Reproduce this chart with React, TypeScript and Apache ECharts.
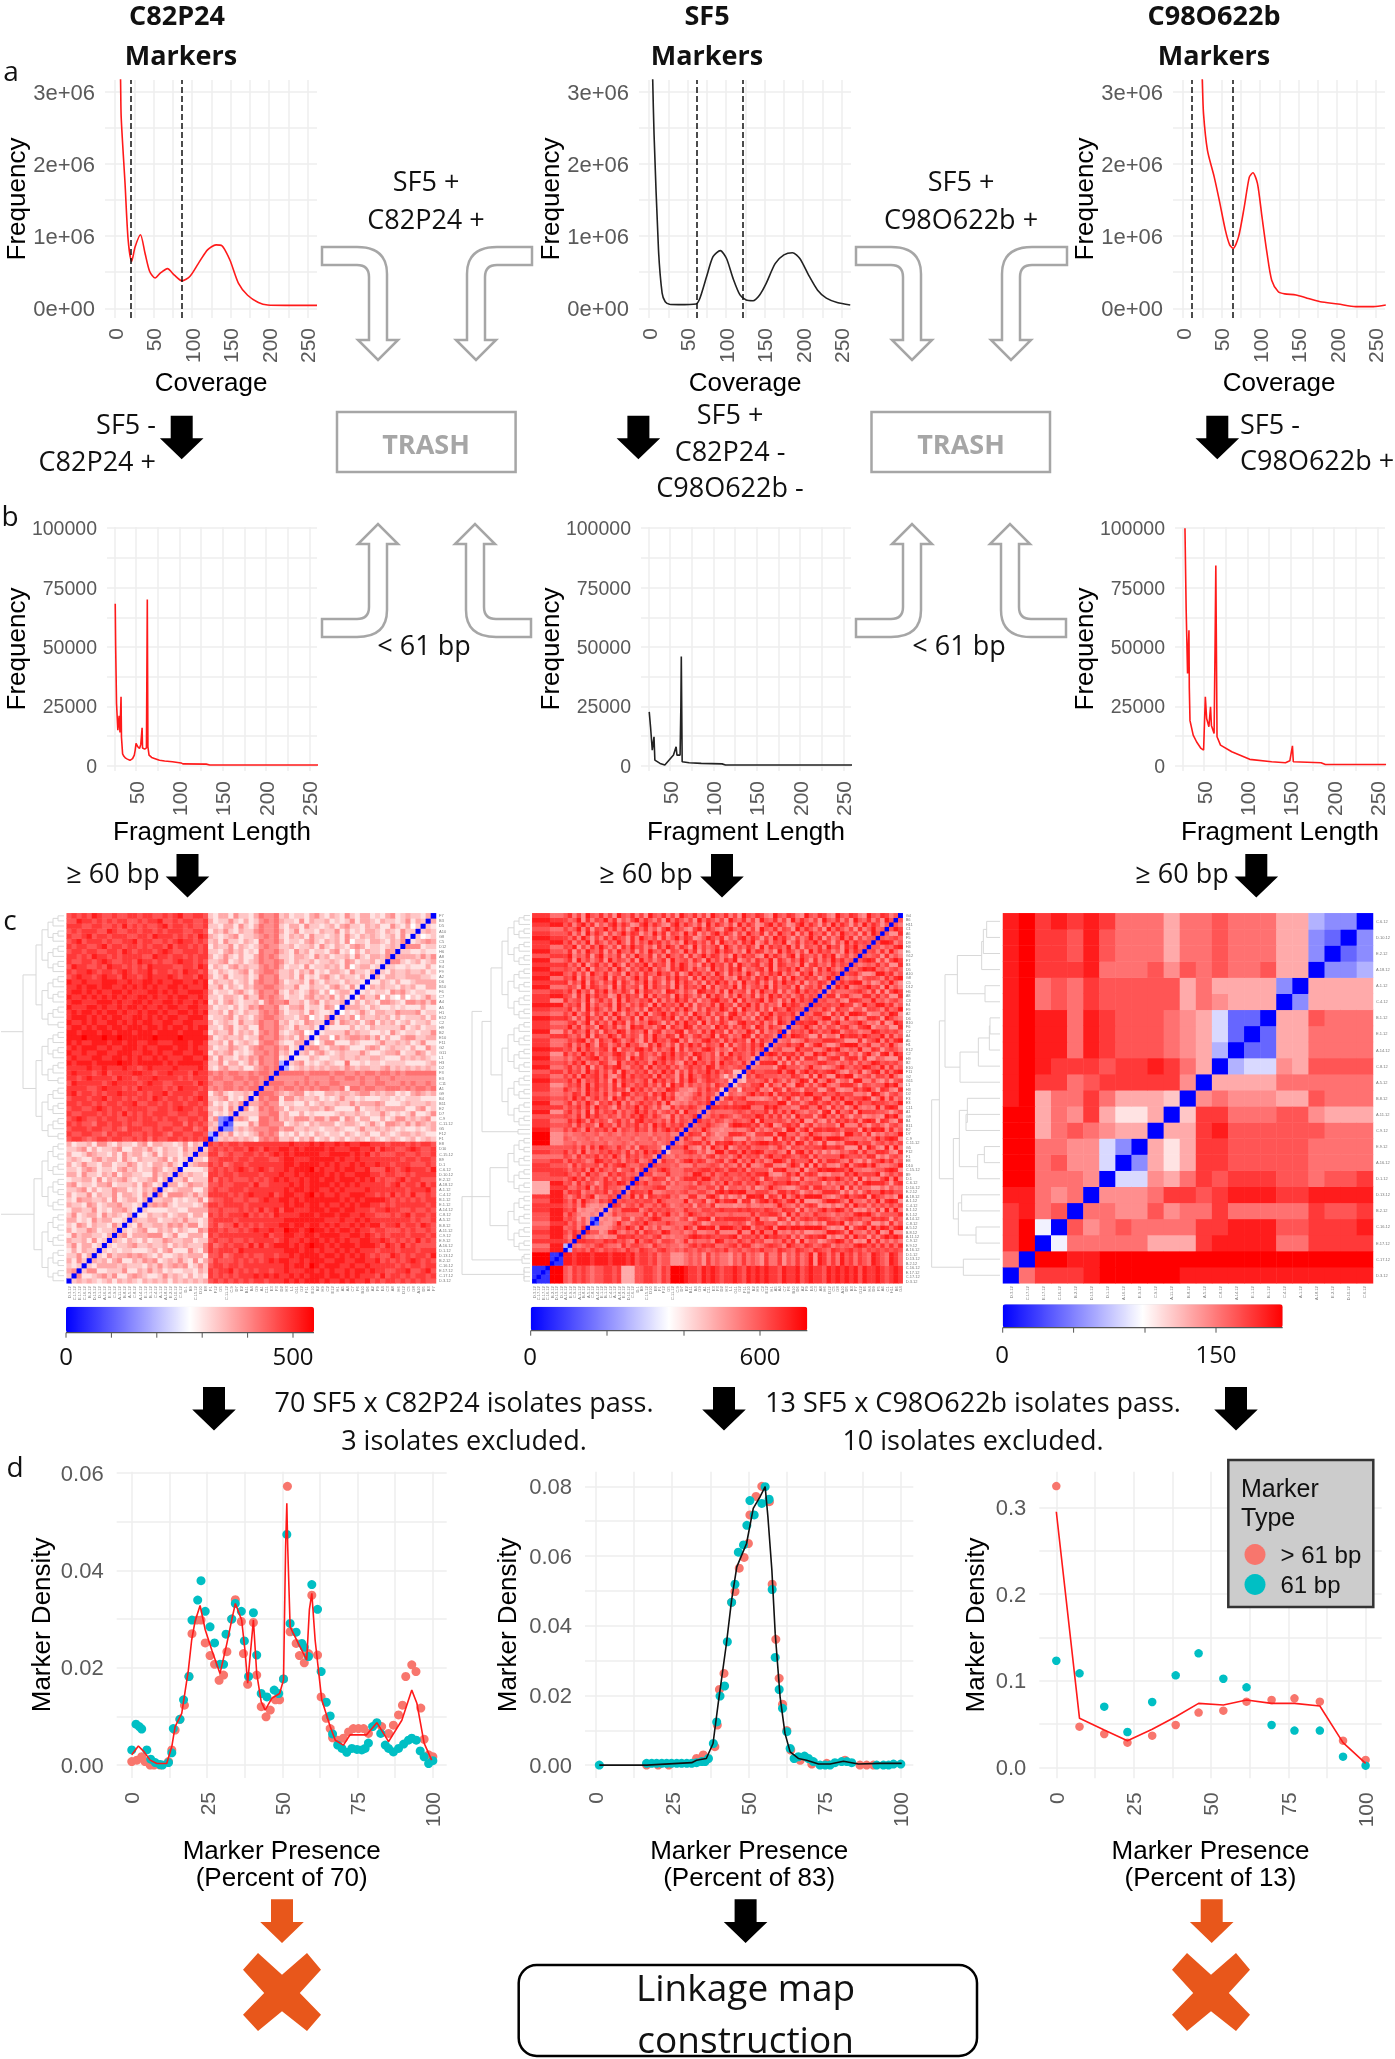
import React, { useEffect, useRef } from "react";
import * as echarts from "echarts";

const sansFont = '"Liberation Sans", Arial, sans-serif';
const officeFont = '"Open Sans", sans-serif';
const RED = "#ff1a1a";
const SALMON = "#F8766D";
const TEAL = "#00BFC4";
const ORANGE = "#E8571B";
const GREY = "#a6a6a6";

// ---------- Coverage histograms (coverage, frequency in millions)
const coverageC82: number[][] = [[6.5,3.4],[7.2,3.16],[8,2.65],[13,1.73],[17,.95],[21.6,.65],[26,.85],[33,1.02],[39,.76],[45,.51],[52,.42],[59,.49],[68,.55],[77,.46],[87,.38],[97,.44],[108,.62],[120,.81],[131,.88],[138.5,.87],[149,.67],[160,.35],[172,.18],[186,.08],[198,.045],[221,.04],[262,.04]];
const coverageSF5: number[][] = [[4,3.5],[4.8,3.16],[6.5,2.42],[12.3,.81],[17,.21],[21,.09],[26.7,.055],[38,.05],[61,.06],[66,.14],[74.7,.44],[83,.715],[92.5,.8],[100.5,.69],[109,.415],[118,.185],[126,.115],[135,.105],[143.5,.185],[152,.346],[163.6,.62],[175,.74],[186,.77],[195.6,.69],[207,.46],[218.7,.25],[230,.14],[244,.08],[261,.045]];
const coverageC98: number[][] = [[24,3.5],[25,3.16],[26.6,2.7],[31.7,2.19],[40.5,1.82],[47,1.5],[55,1.08],[60.5,.88],[65,.83],[72,.99],[79.5,1.41],[86,1.82],[90.7,1.88],[96.6,1.73],[102.4,1.27],[109,.76],[115,.39],[123.6,.23],[132,.2],[146.5,.185],[161,.14],[178,.09],[201,.06],[224,.023],[247,.023],[263,.046]];
const cutoffsC82 = [21, 86];
const cutoffsSF5 = [62, 122];
const cutoffsC98 = [11, 65];

// ---------- Fragment length histograms
const fragmentC82: number[][] = [[26,68200],[26.5,50000],[27.5,26200],[29,15000],[30.5,21000],[31.5,14000],[32.7,29000],[33.2,12000],[34.5,5000],[36,4000],[38,3200],[40,2800],[43,2300],[46,3000],[48,4500],[49,6500],[50,9400],[52,8000],[54,7300],[55.5,9000],[57,16000],[57.5,7500],[60,7000],[62,7500],[62.5,38000],[63,70000],[63.7,8000],[65,4500],[68,3500],[72,3000],[77,2300],[83,2000],[92,1700],[102,1200],[104,800],[131,700],[135,300],[260,300]];
const fragmentSF5: number[][] = [[26,22700],[27.5,16400],[29.5,6600],[31.5,12200],[32.5,2400],[38.5,1000],[44,300],[49,2400],[54,4500],[57,8000],[58,4500],[61.6,4500],[62.5,25000],[63,46000],[64,1700],[72,1300],[86,1000],[110,800],[114,300],[260,300]];
const fragmentC98: number[][] = [[28,100000],[29.4,65400],[31,38800],[32.6,57000],[33,33000],[33.8,19000],[37.5,12900],[41.5,10000],[46.5,7300],[49.5,6600],[50.5,17800],[51.5,29000],[53,19900],[55.6,16400],[57.5,24800],[58.5,17000],[61.6,13600],[62.7,49300],[63.6,84300],[65,12200],[69,8700],[82,5900],[102.7,2700],[128,1700],[144,1300],[149,2100],[152,8400],[153,1700],[185,1300],[190,560],[260,560]];

// ---------- Shade codes of the distance matrices: 0-9 white to red, a-g blue to white
const c82LowerBlock = ["","2","34","212","3142","22413","131322","2413312","32231412","142332213","3122431223","21431322142","331214233112","2412331423213","13322412133421","322143123342212","2143322314123313","31224132241332142","223413122433121324","3412213341222314312","12233141323421223413","331422132413322114232","2213431221342312243123","31242213312243121332421","232113423314213222341312","3112432213142331241322132","22341312234113324213221423","312231442132213413322124132"];
const c82CrossBlock = ["6776567767766767576677676767","7667766576777667677657766776","6777677667657776676776677567","7676657767767667776667757676","6787667677667767767677667767","7667776767686767677766776677","6776678767767777667767877676","7767767677677866776767767767","6777677867767677687677676787","7867767677877767677867777677","7777667877767687777676877767","6877777678777767877667777687","7767877776877677787777676777","7877767867777887767787776877","7777877877787767877778777787","8788878888988788888787888887","7877788778878787787877788778","8778778877888778878778877887","7878887787788878778887887877","8787788878878877887778887887","8889888988988888898888988888","8878887887888788878888788887","7887878878878887887878878788","8778787788787878877887788777","7888787878877887878788778887","7878878788787787887877887878","8777887877878878778788778877","7887778887877887877887877878","8778787878787788787787887787","7887878778878777887878778887","7787887887787878787788787778","8778777888778778878778877878","6787767877687767877787677687","7677876776787677867767687767","6877667687767676877776677687","7667767876677687767667877676","7767687767677776687767767677","6776776677687677767876677767","7677667867767767677686776767","6786777676677867766767877676","7667867767776677687776767687","6767776687667767767677766776","7776677667686767667867767667","6687767676776676778667677667","6767687667667767766767866776"];
const c82UpperBlock = ["","e","23","32d","24dc","31213","223142","3121324","22341213","134212232","4545545455","54455445454","455445545545","5454554454554","21342231134545","22413312425445e","3142213243544512","13234121244545231","312243213454453412","2231412321455421133","41232231225445323142","132241323145452123401","2213412311544532142231","31232142235445231214322","122341321345543221340214","2231421322454531223142112","31221312435445213341221430","131342122314544522313413223","2213321422545431221342324131","31221342135445213212431302331","224132132445543224113221342141","1322312314544531223142132213221","31241223125445223141213421322131","213212341345542231324121332142213","1321342322454531221412232314023312","22341231235445421322312232143122312","312421311354542213321423122314213324","2213423121544532142312213412031322143","13224132124544223122314213213431221232","231422132154453122134213231402213321324","3212341223454521323142212314213232123141","13242132245445312412213224131213321321422","221331421354452133142212313422132311421302","3122421312454532214132231212413321322124132","21331422135445231221342132142133121341232213"];

const sf5RowA = "657676566776733366776576999877687876778768787877687786787768787878687787678";
const sf5RowB = "88788878887888786776756644456564756554657565475574657568487575867576587658757";
const sf5Triangle = ["","e","75","648","7586","56748","857463","676363c","58643343","768343343","6574843343","75849654768","646857935576","5878465768476","85576947586654","6748576358769857","5796847658574768","86574967548687565","757684958657366847","6485766748578965576","58676459867574768457","764857685759648675763","8574946576867584759686","66758485976586473876651","556455655645565465556456","6545565465556556455646565","54556556456546556554655644","758649576859476586748579685","6748576396748576857496857685","58697485763685748967657484765","765849686576475869758643847568","6857493857684756968574675839664","57685849675385769586473385768754","684759637685947468675849345465768","7596846857396847558674968434576584","65874967584639857674869573434685763","865749685748673968574659864434758671","5768495867483965768574839684756574865","68594768573948675684968573859746876561","758496785843695867684957638496578674152","5867496857483965768475968374857696857611","68574937586895476849576857468675984765676","758694658743957686749685743869675849676584","6468578957468739686457968574839657468758653","85759684765897463865748695764986573849676584","674958657849376589684756938476589746538675857","6847596387468596743859647385968476593846758693","57689473865974685384967589473658967485867394865","865749386597485763849658739647856938746598385764","7486594738659847659378465893764859673846597384658","69584763975846397856479386598475639684758639748653","578469385749683746598637485967394758634896758463975","8637496583749658394765869374859647385967463859748657","75946837584963758493679586473965847638957463869577684","684739586473958647396857485963748659748396584738659766","5768394756839647586394867594837658496738695847563968756","85674936857394865769384759684736589674938567948637495867","763849586734958673948567395864739586374965837496857468576","6849573869475863948756398647539867483956738496583746958675","57639487563948567394865739486759384675938467593856749367584","847593864759386475948637395864738596847395684738596748365874","769384756938574695837648596738495768453967486957384965867359","6584739658467395748659674835968574963857496375869475386947568","76584937658496375869475386974856395748693657849376859467385964","857493685749638576948673859746385967483965784693875649378564857","6839574683957648395746839567486395748693574865938647596384759685","79465837946583749658374965738469587463958674395864793865748693574","583749658374965837496583764958374695874639587463958647395867463958","7693748596473859674638597486394756839647586394867594837658496738695","68475938647596384759685746396857483965748693584769358476958637495867","758496374859763849657384695873469758364795863749685374695837469583746","6847395863746958736495837649583647958637496583749658374965837496573849","75694837695847369584637958643795864379658473965847639586473958647384695","684795836479586347958643795864739586473958634795863479586374958637495863","7569384769583647958647395864739586473965847396584739586473965847396584739","68473965847396584739658473965847396584739658743965874396587439658743965874"];
const c98Triangle = ["a","5a","79a","79ga","7856a","88545a","995554a","995644fa","995544fda","993565433a","9935473113a","89355753332a","897756777774a","8987776778753a","8988587666543ea","8988587666543fca","8988587666543fcca","89565766666354333a","89565766666353333da","8977785556465655633a","8977686555355655533da","8977686555355655533dca","8978787555355655533edda"];

const isolateNames = ["D.3.12","C.17.12","E.17.12","C.16.12","B.2.12","D.13.12","D.1.12","A.16.12","E.9.12","C.9.12","A.11.12","B.8.12","A.5.12","C.8.12","A.14.12","E.1.12","B.1.12","C.4.12","A.1.12","A.18.12","E.2.12","D.10.12","C.6.12","D.1","B9","C.15.12","D10","E8","F1","F12","G5","C.11.12","C.9","D7","E2","B11","B4","G9","A1","C11","E3","F3","D2","H3","L1","G11","G2","F11","E10","B2","H9","C2","E12","H1","A5","A4","C7","F6","B10","D6","A2","F9","E4","C3","A8","H6","D12","C5","G8","A10","D5","B3","F7","G12","E6","H4","D9","F5","A6","C1","H11","B6","G4"];
const tickTexts = { c82: ["0", "500"], sf5: ["0", "600"], c98: ["0", "150"] };

// ---------- Marker density panels (percent, density)
const densityC82Long: number[][] = [[0,.0007],[1.7,.001],[3.3,.0017],[4.4,.0007],[6.1,0],[7.4,0],[9.4,0],[12.2,.0007],[13.3,.0031],[14.4,.0072],[16,.0094],[17.5,.0123],[19,.0182],[20,.027],[21.6,.0298],[23,.0298],[24.4,.0251],[26,.0225],[27.5,.0207],[29,.0174],[30.5,.0185],[31.6,.0233],[33.2,.03],[34.4,.034],[36.4,.0295],[37.1,.0229],[38.5,.0166],[40.4,.0293],[41.5,.0185],[43,.012],[44.6,.0099],[46,.0113],[47.7,.0134],[49.1,.0134],[50.4,.0177],[51.7,.0573],[52.6,.0274],[54.6,.025],[55.7,.0225],[57.3,.021],[58.7,.0229],[59.8,.0349],[61.7,.0226],[62.9,.014],[64.6,.0096],[65.9,.0075],[66.7,.0056],[68.4,.0051],[70.3,.0055],[72,.0068],[73.6,.0075],[75.3,.0075],[77,.0075],[78.6,.0065],[81.4,.0086],[83,.0079],[85.3,.0065],[86.9,.0082],[88.6,.0103],[89.9,.0123],[91,.0182],[93,.0206],[94.4,.0192],[96,.0117],[97.1,.0053],[98.6,.0021],[100,.0017]];
const densityC82Short: number[][] = [[0,.0031],[1.4,.0084],[2.5,.0079],[3.3,.0074],[5,.0031],[6.3,.0012],[7.8,.0005],[9.4,.0001],[10.2,0],[12.2,.0005],[13.3,.0025],[13.8,.0075],[16,.0094],[17.2,.0134],[19,.0182],[20,.0298],[21.9,.0339],[23,.0379],[24.4,.0316],[26,.0284],[27.5,.0251],[29.3,.0207],[30.5,.0207],[31.3,.0269],[33.2,.03],[34.4,.0332],[36.4,.0316],[37.4,.0255],[38.8,.0182],[40.4,.0313],[41.5,.0226],[43,.0147],[44.9,.014],[47.3,.0154],[48.8,.0147],[50.4,.0177],[51.5,.0474],[52.6,.0291],[54.6,.0273],[56.5,.025],[57.3,.0242],[58.7,.0223],[59.8,.0371],[61.7,.032],[62.9,.0192],[64.6,.0129],[65.9,.0101],[66.7,.0064],[68.4,.0041],[69.8,.0034],[71.4,.0026],[73.1,.0034],[74.8,.0032],[76.4,.0031],[77.5,.0034],[78.6,.0045],[80,.0079],[81.4,.0087],[82.7,.0065],[84.2,.0041],[85.3,.0034],[86.9,.0027],[88.6,.0034],[90.3,.0043],[91.9,.0051],[93,.0055],[94.5,.0051],[95.8,.0029],[97.1,.0017],[98.6,.0003],[100,.0009]];
const densityC82Line: number[][] = [[0,.0021],[2.2,.0039],[4.1,.0027],[6.1,.001],[8.3,.0003],[11.6,.0003],[13.3,.0038],[14.4,.0079],[16.6,.0106],[18.8,.0195],[19.9,.0257],[21,.0295],[22.7,.0328],[24.4,.0278],[26.6,.0236],[29.3,.0188],[31.6,.025],[33.2,.0298],[34.4,.0332],[36.5,.0298],[37.6,.0236],[38.5,.0168],[40.4,.0298],[41.5,.0188],[43,.013],[44.3,.0113],[46.5,.0137],[49.1,.0147],[50.4,.0175],[51.1,.0448],[51.5,.0538],[51.8,.0448],[52.6,.0284],[55.9,.0243],[58.1,.0216],[59,.032],[59.8,.0353],[60.9,.0257],[63.1,.0134],[65.9,.0079],[67.6,.0051],[70.3,.0041],[72.5,.0062],[78,.0062],[81.4,.0087],[85.3,.0048],[89.7,.0092],[93,.0154],[94.7,.0127],[97.1,.0045],[99.6,.001]];
const densitySF5Long: number[][] = [[16.6,0],[20.4,0],[23.9,0],[33,.0019],[35.2,.0029],[39,.0053],[39.8,.0115],[40.5,.0217],[42,.0263],[44.5,.0467],[45.6,.0498],[47,.0565],[48.6,.0596],[50,.0636],[50.5,.0718],[52.5,.0771],[54.4,.08],[56.9,.0756],[57.8,.0519],[59,.0361],[60.1,.0249],[61.2,.0175],[62.6,.0099],[63.9,.0043],[67,.0014],[70.8,.0003],[75.7,.0005],[81.7,.0014],[86.6,0],[88.8,0],[91,0]];
const densitySF5Short: number[][] = [[1.1,0],[16.6,.0005],[18.3,.0005],[19.9,.0005],[21.6,.0005],[23.2,.0005],[24.8,.0005],[26.5,.0005],[28.1,.0005],[29.8,.0005],[31.4,.0005],[33,.0007],[34.7,.001],[35.8,.001],[36.9,.0019],[38.5,.0062],[39.6,.0124],[40.7,.0198],[42.2,.0227],[43.1,.0354],[44.5,.0467],[45.6,.0519],[46.7,.0611],[48.4,.0632],[49.5,.0688],[50.5,.0759],[51.9,.0718],[54.4,.0751],[55.5,.0799],[56.8,.0763],[57.8,.0504],[58.8,.0309],[60.1,.0217],[61.2,.0163],[62.6,.0096],[63.7,.0048],[65,.0019],[66.4,.0024],[68.4,.0026],[69.7,.0019],[71.3,.001],[73.5,0],[75.2,0],[76.8,0],[78.4,.0007],[80.6,.001],[82.3,.001],[83.9,.0007],[92.1,0],[94.3,0],[96,0],[97.6,.0003],[100,.0003]];
const densitySF5Line: number[][] = [[1.1,0],[16.7,0],[31.4,.0007],[33,.0014],[36.2,.0019],[38.4,.0062],[40.1,.0177],[42.8,.0349],[44.5,.0474],[46.2,.0569],[49.4,.0636],[51.6,.0737],[53.8,.077],[55.5,.0799],[56.4,.0713],[57.7,.056],[58.8,.0378],[60.4,.0196],[62,.0091],[63.7,.0038],[66.4,.0019],[69.1,.0014],[73,.0003],[76.8,.0003],[81.2,.0011],[86.1,.0003],[93.2,.0005],[100.3,.0005]];
const densityC98Long: number[][] = [[0,.325],[7.5,.047],[15.5,.0385],[23,.0285],[31,.0366],[38.6,.0489],[46,.0632],[54,.0655],[61.5,.0759],[69.6,.0778],[77,.0797],[85.2,.0759],[92.7,.0308],[100,.0085]];
const densityC98Short: number[][] = [[0,.1232],[7.5,.1086],[15.5,.0701],[23,.0408],[31,.0755],[38.6,.1063],[46,.1317],[54,.1024],[61.5,.0924],[69.6,.0489],[77,.0424],[85.2,.0424],[92.7,.0123],[100,.0019]];
const densityC98Line: number[][] = [[0,.2953],[7.5,.0566],[15.5,.0431],[23,.0308],[31,.0439],[38.6,.0585],[46,.0739],[54,.072],[61.5,.0778],[69.6,.0739],[77,.0739],[85.2,.0709],[92.7,.0285],[100,.0046]];

const c98Tree: any = [5,[28,[45,[82,[155,[160,[170,0,1],2],3],[165,4,5]],[90,[145,[178,[180,6,7],8],9],10]],[70,[88,[112,11,[108,12,13]],[143,[163,14,15],16]],[85,[95,17,18],[138,19,20]]]],[100,21,22]];
const spanReach = [[2,6],[4,11],[8,16],[16,22],[32,28],[64,33]];

const shade = (ch: string | undefined, max: number, fallback = "5", soften = 1) => {
  const c = ch === undefined || ch === " " ? fallback : ch;
  const mid = max / 2;
  const blues: any = { a: 0, b: .2, c: .4, d: .55, e: .7, f: .85, g: .95 };
  if (c in blues) return mid * blues[c];
  const d = Number(c);
  return mid * (1 + (soften === 1 ? d : 6 + (d - 6) * soften) / 9);
};
const at = (rows: string[], i: number, j: number) => (rows[i] || "")[j];

function mirrored(n: number, cell: (i: number, j: number) => number) {
  const out: number[][] = [];
  for (let i = 0; i < n; i++) for (let j = 0; j <= i; j++) {
    const v = i === j ? 0 : cell(i, j);
    out.push([j, i, v]);
    if (i !== j) out.push([i, j, v]);
  }
  return out;
}
const c82Matrix = () => mirrored(73, (i, j) => {
  if (i < 28) return shade(at(c82LowerBlock, i, j), 546, "3");
  if (j < 28) return shade(at(c82CrossBlock, i - 28, j), 546, "7");
  return shade(at(c82UpperBlock, i - 28, j - 28), 546, "3");
});
const sf5Matrix = () => mirrored(83, (i, j) => {
  if (i < 4) return shade("b", 724);
  if (i < 7 && j >= 4) return shade("b", 724);
  if (i < 7) return shade("9", 724);
  if (j < 4) return shade(sf5RowA[i - 7], 724, "7");
  if (j < 7) return shade(sf5RowB[i - 7], 724, "6");
  return shade(at(sf5Triangle, i - 7, j - 7), 724, "6", 0.7);
});
const c98Matrix = () => mirrored(23, (i, j) => shade(at(c98Triangle, i, j), 197));

const TREE_STYLE = { stroke: "#d8d8d8", lineWidth: 1 };
const bracket = (pts: number[][]) => ({ type: "polyline", silent: true, shape: { points: pts }, style: TREE_STYLE, z: 1 });

function balancedTree(lo: number, hi: number, leafX: number, yOf: (i: number) => number, out: any[], rootX?: number): { x: number; y: number } {
  if (lo === hi) return { x: leafX, y: yOf(lo) };
  const mid = (lo + hi) >> 1;
  const a = balancedTree(lo, mid, leafX, yOf, out);
  const b = balancedTree(mid + 1, hi, leafX, yOf, out);
  const span = hi - lo + 1;
  const reach = (spanReach.find((s) => span <= s[0]) || [0, 36])[1];
  const x = rootX ?? leafX - reach;
  out.push(bracket([[a.x, a.y], [x, a.y], [x, b.y], [b.x, b.y]]));
  return { x, y: (a.y + b.y) / 2 };
}
function typedTree(node: any, toX: (z: number) => number, leafX: number, yOf: (i: number) => number, out: any[]): { x: number; y: number } {
  if (typeof node === "number") return { x: leafX, y: yOf(node) };
  const a = typedTree(node[1], toX, leafX, yOf, out);
  const b = typedTree(node[2], toX, leafX, yOf, out);
  const x = toX(node[0]);
  out.push(bracket([[a.x, a.y], [x, a.y], [x, b.y], [b.x, b.y]]));
  return { x, y: (a.y + b.y) / 2 };
}

const BENT = "M0 0 H35 Q65 0 65 27 V93 H76 L56 113 L36 93 H47 V30 Q47 18 35 18 H0 Z";
let registered = false;
function registerShapes() {
  if (registered) return;
  registered = true;
  echarts.graphic.registerShape("bentArrow", (echarts.graphic as any).extendPath(BENT, {}));
}

const txt = (text: string, x: number, y: number, size = 27, align = "center", extra: any = {}) => ({
  type: "text", x, y: extra.family ? y : y - 2, z: 6, silent: true,
  style: { text, fill: extra.fill || "#111", font: `${extra.weight || "normal"} ${size}px ${extra.family || officeFont}`, align, verticalAlign: "middle", textAlign: align, textVerticalAlign: "middle" },
});
const bigArrow = (cx: number, top: number, fill = "#000", k = 1) => ({
  type: "polygon", z: 5, silent: true,
  shape: { points: [[cx - 11, top], [cx + 11, top], [cx + 11, top + 22.6 * k], [cx + 21.8, top + 22.6 * k], [cx, top + 43.6 * k], [cx - 21.8, top + 22.6 * k], [cx - 11, top + 22.6 * k]] },
  style: { fill },
});
const cross = (cx: number, cy: number) => ({
  type: "polygon", z: 5, silent: true,
  shape: { points: [[-39,-22.3],[-24,-39],[0,-17.3],[25,-39],[39,-22.3],[17.8,1],[39,22.7],[25,39],[0,19.3],[-24,39],[-39,22.7],[-17.8,1]].map((p) => [cx + p[0], cy + p[1]]) },
  style: { fill: ORANGE },
});
const bent = (x: number, y: number, sx: number, sy: number) => ({
  type: "bentArrow", x, y, scaleX: sx, scaleY: sy, z: 5, silent: true,
  style: { fill: "#fff", stroke: GREY, lineWidth: 2.5, strokeNoScale: true },
});

export default function App() {
  const ref = useRef<HTMLDivElement>(null);
  useEffect(() => {
    if (!ref.current) return;
    registerShapes();
    const chart = echarts.init(ref.current, undefined, { renderer: "svg" });

    const gridLine = { show: true, lineStyle: { color: "#eeeeee", width: 1.5 } };
    const grids: any[] = [], xAxes: any[] = [], yAxes: any[] = [], series: any[] = [];
    const axisNames = { fontFamily: sansFont, fontSize: 26, color: "#000" };

    const addHeat = (left: number, right: number, names: string[], data: number[][]) => {
      const g = grids.length;
      grids.push({ left, top: 913.3, width: right - left, height: 370 });
      const tiny = { fontSize: 4, color: "#777", interval: 0, margin: 3, fontFamily: sansFont };
      xAxes.push({ type: "category", gridIndex: g, data: names, axisLine: { show: false }, axisTick: { show: false }, splitLine: { show: false }, axisLabel: { ...tiny, rotate: 90 } });
      yAxes.push({ type: "category", gridIndex: g, data: names, position: "right", axisLine: { show: false }, axisTick: { show: false }, splitLine: { show: false }, axisLabel: tiny });
      series.push({ type: "heatmap", xAxisIndex: g, yAxisIndex: g, data, progressive: 0, emphasis: { disabled: true }, itemStyle: { borderWidth: 0 } });
    };
    addHeat(66.7, 436, isolateNames.slice(0, 73), c82Matrix());
    addHeat(532.3, 902.7, isolateNames, sf5Matrix());
    addHeat(1003, 1373, isolateNames.slice(0, 23), c98Matrix());

    const addPanel = (box: number[], xr: number[], yr: number[], xt: number[], xl: number[], yt: number[], yl: number[], opts: any) => {
      const g = grids.length;
      grids.push({ left: box[0], top: box[1], width: box[2] - box[0], height: box[3] - box[1] });
      xAxes.push({
        type: "value", gridIndex: g, min: xr[0], max: xr[1],
        axisLine: { show: false }, axisTick: { show: false, customValues: xt },
        axisLabel: { customValues: xl, rotate: 90, fontSize: 21, color: "#5a5a5a", margin: opts.xMargin, fontFamily: sansFont },
        splitLine: gridLine, name: opts.xName, nameLocation: "middle", nameGap: opts.xGap, nameMoveOverlap: false,
        nameTextStyle: { ...axisNames, lineHeight: 27 },
      });
      yAxes.push({
        type: "value", gridIndex: g, min: yr[0], max: yr[1],
        axisLine: { show: false }, axisTick: { show: false, customValues: yt },
        axisLabel: { customValues: yl, fontSize: opts.yFont || 22, color: "#5a5a5a", margin: opts.yMargin, fontFamily: sansFont, formatter: opts.yFmt },
        splitLine: gridLine, name: opts.yName, nameLocation: "middle", nameGap: opts.yGap, nameMoveOverlap: false,
        nameTextStyle: axisNames,
      });
      return g;
    };
    const lineSeries = (g: number, data: number[][], color: string, extra: any = {}) => ({
      type: "line", name: "Mean", xAxisIndex: g, yAxisIndex: g, data, showSymbol: false, symbol: "none", z: 3, silent: true,
      lineStyle: { color, width: 1.6 }, ...extra,
    });
    const cuts = (vals: number[]) => ({
      silent: true, symbol: "none", animation: false, label: { show: false },
      lineStyle: { type: "dashed", color: "#111", width: 1.5 }, data: vals.map((v) => ({ xAxis: v })),
    });

    const covFmt = (v: number) => (v === 0 ? "0e+00" : `${v}e+06`);
    const covTicks = [0, 25, 50, 75, 100, 125, 150, 175, 200, 225, 250];
    const covLabels = [0, 50, 100, 150, 200, 250];
    [[0, coverageC82, cutoffsC82, RED], [534, coverageSF5, cutoffsSF5, "#222"], [1068, coverageC98, cutoffsC98, RED]].forEach((p: any) => {
      const g = addPanel([105 + p[0], 80, 317 + p[0], 318], [-13, 262], [-.135, 3.167], covTicks, covLabels, [0, .5, 1, 1.5, 2, 2.5, 3], [0, 1, 2, 3],
        { xName: "Coverage", xGap: 50, yName: "Frequency", yGap: 76, xMargin: 10, yMargin: 10, yFmt: covFmt });
      series.push(lineSeries(g, p[1], p[3], { smooth: 0.25, markLine: cuts(p[2]) }));
    });
    const fragTicks = [25, 50, 75, 100, 125, 150, 175, 200, 225, 250];
    const fragLabels = [50, 100, 150, 200, 250];
    [[0, fragmentC82, RED], [534, fragmentSF5, "#222"], [1068, fragmentC98, RED]].forEach((p: any) => {
      const g = addPanel([107 + p[0], 527, 317 + p[0], 771], [16.5, 258.8], [-2200, 100500], fragTicks, fragLabels, [0, 12500, 25000, 37500, 50000, 62500, 75000, 87500, 100000], [0, 25000, 50000, 75000, 100000],
        { xName: "Fragment Length", xGap: 46, yName: "Frequency", yGap: 78, xMargin: 10, yMargin: 10, yFont: 19.5, yFmt: (v: number) => String(v) });
      series.push(lineSeries(g, p[1], p[2]));
    });

    const pctTicks = [0, 12.5, 25, 37.5, 50, 62.5, 75, 87.5, 100];
    const pctLabels = [0, 25, 50, 75, 100];
    const dots = (g: number, name: string, data: number[][], color: string, size = 9) => ({
      type: "scatter", name, xAxisIndex: g, yAxisIndex: g, data, symbolSize: size, itemStyle: { color, opacity: 1 }, z: 2, silent: true,
    });
    const d = [
      { box: [116.7, 1471.7, 446.7, 1778], x: [-5, 104.6], y: [-.00267, .0603], t: [0, .01, .02, .03, .04, .05, .06], l: [0, .02, .04, .06], f: 2, name: "Marker Presence\n(Percent of 70)", yGap: 63, a: densityC82Long, b: densityC82Short, line: densityC82Line, c: RED, s: 9 },
      { box: [585, 1471.7, 913.3, 1778], x: [-3.6, 104.1], y: [-.0037, .0842], t: [0, .01, .02, .03, .04, .05, .06, .07, .08], l: [0, .02, .04, .06, .08], f: 2, name: "Marker Presence\n(Percent of 83)", yGap: 65, a: densitySF5Long, b: densitySF5Short, line: densitySF5Line, c: "#111", s: 9 },
      { box: [1039.3, 1471.7, 1381.7, 1778.3], x: [-5.5, 105.2], y: [-.0127, .3416], t: [0, .05, .1, .15, .2, .25, .3], l: [0, .1, .2, .3], f: 1, name: "Marker Presence\n(Percent of 13)", yGap: 51, a: densityC98Long, b: densityC98Short, line: densityC98Line, c: RED, s: 8.5 },
    ];
    d.forEach((p) => {
      const g = addPanel(p.box, p.x, p.y, pctTicks, pctLabels, p.t, p.l, {
        xName: p.name, xGap: 58, yName: "Marker Density", yGap: p.yGap, xMargin: 14, yMargin: 13, yFmt: (v: number) => v.toFixed(p.f),
      });
      series.push(dots(g, "> 61 bp", p.a, SALMON, p.s));
      series.push(dots(g, "61 bp", p.b, TEAL, p.s));
      series.push(lineSeries(g, p.line, p.c));
    });

    // dendrograms
    const trees: any[] = [];
    const y1 = (i: number) => 913.3 + (i + .5) * 370 / 73;
    const a1 = balancedTree(0, 44, 64, y1, trees, 23);
    const b1 = balancedTree(45, 72, 64, y1, trees, 34);
    trees.push(bracket([[a1.x, a1.y], [1, a1.y]]), bracket([[b1.x, b1.y], [1, b1.y]]));
    const y2 = (i: number) => 913.3 + (i + .5) * 370 / 83;
    const s1 = balancedTree(0, 47, 530, y2, trees, 491);
    const s2 = balancedTree(48, 49, 530, y2, trees, 518);
    const s3 = balancedTree(50, 75, 530, y2, trees, 490);
    const s4 = balancedTree(76, 78, 530, y2, trees, 522);
    const s5 = balancedTree(79, 82, 530, y2, trees, 524);
    trees.push(bracket([[s1.x, s1.y], [482, s1.y], [482, s2.y], [s2.x, s2.y]]));
    trees.push(bracket([[s3.x, s3.y], [480, s3.y]]), bracket([[s4.x, s4.y], [472, s4.y], [472, s1.y - 10], [482, s1.y - 10]]), bracket([[s5.x, s5.y], [462, s5.y], [462, s3.y], [480, s3.y]]));
    typedTree(c98Tree, (z) => 930 + z / 3, 1000, (i) => 913.3 + (i + .5) * 370 / 23, trees);

    const colorbarTicks = (left: number, top: number, h: number, right: number, values: number[]) => [
      { type: "line", silent: true, z: 5, shape: { x1: left, y1: top + h, x2: right, y2: top + h }, style: { stroke: "#555", lineWidth: 1.2 } },
      ...values.map((x) => ({ type: "line", silent: true, z: 5, shape: { x1: x, y1: top + h, x2: x, y2: top + h + 5 }, style: { stroke: "#555", lineWidth: 1 } })),
    ];

    const bold = { weight: "bold" };
    const elements: any[] = [
      ...trees,
      txt("C82P24", 177, 16, 27, "center", bold), txt("Markers", 181, 56, 27, "center", bold),
      txt("SF5", 707, 16, 27, "center", bold), txt("Markers", 707, 56, 27, "center", bold),
      txt("C98O622b", 1214, 16, 27, "center", bold), txt("Markers", 1214, 56, 27, "center", bold),
      txt("a", 11, 72, 28), txt("b", 10, 517, 28), txt("c", 10, 921, 28), txt("d", 15, 1468, 28),
      txt("SF5 +", 426, 182), txt("C82P24 +", 426, 220), txt("SF5 +", 961, 182), txt("C98O622b +", 961, 220),
      txt("SF5 -", 156, 425, 27, "right"), txt("C82P24 +", 156, 462, 27, "right"),
      txt("SF5 +", 730, 415), txt("C82P24 -", 730, 452), txt("C98O622b -", 730, 488),
      txt("SF5 -", 1240, 425, 27, "left"), txt("C98O622b +", 1240, 461, 27, "left"),
      txt("< 61 bp", 424, 646), txt("< 61 bp", 959, 646),
      txt("≥ 60 bp", 113, 874), txt("≥ 60 bp", 646, 874), txt("≥ 60 bp", 1182, 874),
      txt("70 SF5 x C82P24 isolates pass.", 464, 1403), txt("3 isolates excluded.", 464, 1441),
      txt("13 SF5 x C98O622b isolates pass.", 973, 1403), txt("10 isolates excluded.", 973, 1441),
      txt(tickTexts.c82[0], 66, 1357, 24), txt(tickTexts.c82[1], 293, 1357, 24),
      txt(tickTexts.sf5[0], 530, 1357, 24), txt(tickTexts.sf5[1], 760, 1357, 24),
      txt(tickTexts.c98[0], 1002, 1355, 24), txt(tickTexts.c98[1], 1216, 1355, 24),
      ...colorbarTicks(66, 1306.7, 26, 314, [66, 111.4, 156.8, 202.2, 247.6, 293]),
      ...colorbarTicks(530.7, 1306.7, 24, 807.3, [530.7, 607, 684, 760]),
      ...colorbarTicks(1002.7, 1304.3, 23.4, 1282.7, [1002.7, 1073.6, 1145, 1216]),
      bent(322, 247, 1, 1), bent(532, 247, -1, 1), bent(856, 247, 1, 1), bent(1067, 247, -1, 1),
      bent(322, 637, 1, -1), bent(531, 637, -1, -1), bent(856, 637, 1, -1), bent(1066, 637, -1, -1),
      { type: "rect", z: 5, silent: true, shape: { x: 337, y: 412, width: 178.6, height: 60 }, style: { fill: "#fff", stroke: GREY, lineWidth: 2.5 } },
      { type: "rect", z: 5, silent: true, shape: { x: 871.5, y: 412, width: 178.5, height: 60 }, style: { fill: "#fff", stroke: GREY, lineWidth: 2.5 } },
      txt("TRASH", 426, 445, 27, "center", { weight: "bold", fill: GREY }), txt("TRASH", 961, 445, 27, "center", { weight: "bold", fill: GREY }),
      bigArrow(181.7, 415.7), bigArrow(638.4, 415.7), bigArrow(1217.3, 415.7),
      bigArrow(187.5, 854), bigArrow(722, 854), bigArrow(1256.3, 854),
      bigArrow(214, 1387), bigArrow(724, 1387), bigArrow(1236, 1387),
      bigArrow(282, 1899.3, ORANGE), bigArrow(745.6, 1899.3), bigArrow(1211.7, 1899.3, ORANGE),
      cross(282, 1992), cross(1211, 1992),
      { type: "rect", z: 5, silent: true, shape: { x: 518.7, y: 1965, width: 458.3, height: 91, r: 18 }, style: { fill: "#fff", stroke: "#000", lineWidth: 2.5 } },
      txt("Linkage map", 745.6, 1988, 37), txt("construction", 745.6, 2040, 37),
      { type: "rect", z: 5, silent: true, shape: { x: 1228.3, y: 1460, width: 145, height: 147 }, style: { fill: "#cccccc", stroke: "#333", lineWidth: 2.5 } },
      txt("Marker", 1241, 1488, 25, "left", { family: sansFont }), txt("Type", 1241, 1517, 25, "left", { family: sansFont }),
    ];

    const vm = (idx: number, max: number, left: number, top: number, len: number, thick: number) => ({
      type: "continuous", seriesIndex: idx, dimension: 2, min: 0, max, orient: "horizontal", left, top, itemWidth: thick, itemHeight: len,
      padding: 0, calculable: false, hoverLink: false, show: true, inRange: { color: ["#0000ff", "#ffffff", "#ff0000"] }, textStyle: { fontSize: 0, color: "transparent" },
    });

    chart.setOption({
      animation: false,
      backgroundColor: "#ffffff",
      textStyle: { fontFamily: sansFont },
      grid: grids, xAxis: xAxes, yAxis: yAxes, series,
      visualMap: [vm(0, 546, 66, 1306.7, 248, 26), vm(1, 724, 530.7, 1306.7, 276.6, 24), vm(2, 197, 1002.7, 1304.3, 280, 23.4)],
      legend: {
        show: true, data: ["> 61 bp", "61 bp"], orient: "vertical", left: 1244.5, top: 1542.5, itemWidth: 21, itemHeight: 21, itemGap: 6, padding: 0,
        icon: "circle", selectedMode: false, z: 8, textStyle: { fontFamily: sansFont, fontSize: 24, color: "#111", padding: [0, 0, 0, 10] },
      },
      graphic: { elements },
    });
    return () => chart.dispose();
  }, []);
  return <div ref={ref} style={{ position: "absolute", left: 0, top: 0, width: 1395, height: 2059, filter: "blur(0.5px)" }} />;
}
